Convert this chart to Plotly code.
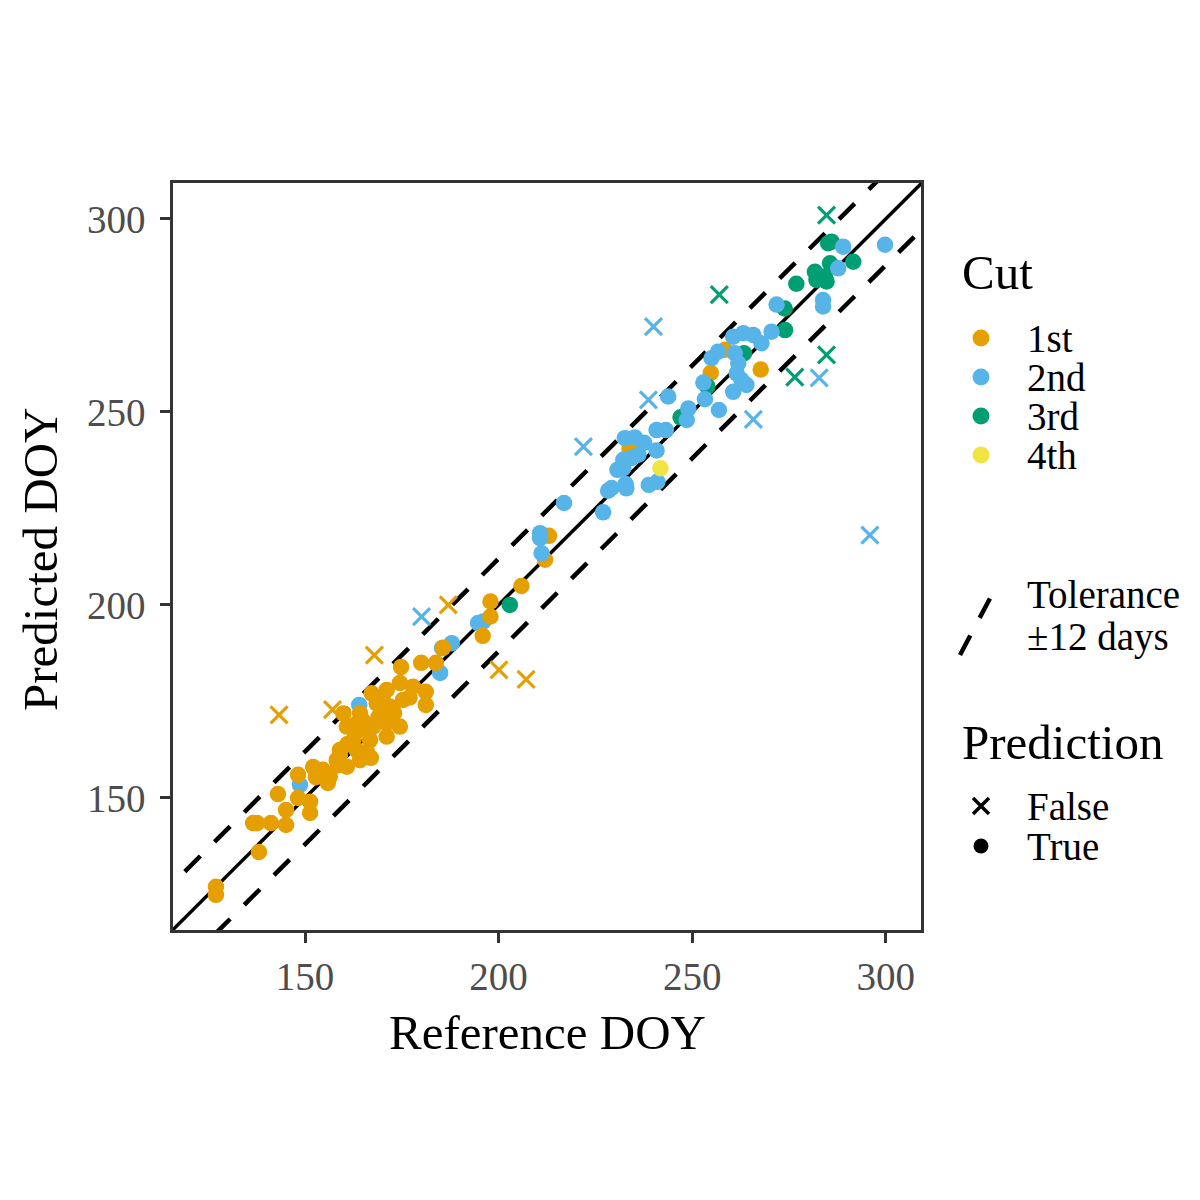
import plotly.graph_objects as go

# ---------------- data ----------------
ref_1st = [127.0,127.0,138.1,136.6,137.6,141.2,145.1,143.0,145.1,148.2,152.1,152.8,148.2,151.3,151.3,155.9,
           159.0,158.5,167.0,181.2,181.2,180.0,183.8,174.8,185.6,
           167.2,171.1,174.5,177.9,175.3,171.9,168.5,164.2,159.9,160.8,164.2,167.6,171.1,174.5,171.1,166.8,
           162.5,159.0,163.3,158.2,164.2,160.8,154.6,156.4,
           165.0,169.0,173.0,177.0,170.0,163.0,166.0,161.0,
           213.0,212.0,205.9,197.9,197.9,195.9,233.8,254.8,258.5,267.7]
pred_1st = [127.0,124.9,136.0,143.5,143.5,143.5,143.0,151.0,146.9,156.0,158.0,155.4,150.0,149.0,146.1,153.9,
            161.1,158.5,160.4,177.5,174.1,185.0,185.0,183.9,188.9,
            177.1,178.0,179.8,178.8,175.4,173.7,174.5,172.0,171.9,168.5,167.6,168.5,169.4,168.5,165.9,165.0,
            165.0,162.4,162.4,159.8,159.8,158.1,157.3,155.5,
            170.0,171.0,172.0,176.0,176.0,169.0,162.0,164.0,
            217.9,211.7,204.9,200.9,197.0,192.0,240.4,260.1,266.1,261.0]
ref_1st_miss = [143.3,157.1,167.9,187.0,200.1,207.1]
pred_1st_miss = [171.5,172.9,187.0,200.0,183.2,180.7]

ref_2nd = [148.7,164.0,184.9,185.4,187.9,194.7,196.0,211.1,210.7,210.7,216.9,
           227.0,228.3,229.2,232.8,233.0,238.8,241.0,230.7,232.2,232.2,234.3,236.1,232.6,235.2,237.6,240.8,
           240.8,243.2,243.8,248.6,249.0,253.3,256.9,252.9,255.0,256.7,260.6,263.2,265.8,261.0,261.9,261.5,
           262.7,264.0,260.6,267.9,270.5,271.8,283.8,283.8,287.7,289.0,299.8]
pred_2nd = [153.4,174.1,182.4,188.8,190.1,195.3,195.7,213.4,218.6,217.3,226.4,
            224.0,229.6,230.3,231.3,230.2,231.1,231.9,235.0,235.4,237.6,238.0,238.9,243.2,243.4,242.0,240.0,
            245.3,245.3,254.0,247.9,250.9,253.3,250.5,257.6,263.9,265.6,269.5,270.4,269.9,265.2,262.6,260.0,
            258.3,257.0,255.2,267.8,270.8,277.8,279.0,277.3,287.2,292.8,293.3]
ref_2nd_miss = [180.1,221.9,238.7,240.0,265.8,282.8,295.9]
pred_2nd_miss = [197.0,241.0,253.1,272.1,248.1,258.8,218.1]

ref_3rd = [202.9,247.0,253.9,263.4,274.0,273.9,276.9,281.7,282.1,284.3,284.7,285.6,291.6,285.1,286.0]
pred_3rd = [200.0,248.6,256.6,265.2,271.2,276.8,283.2,286.3,284.2,285.1,283.8,288.5,288.9,293.7,294.1]
ref_3rd_miss = [257.0,276.5,284.7,284.7]
pred_3rd_miss = [280.4,259.0,264.8,301.0]

ref_4th = [241.8]
pred_4th = [235.4]

cut_labels = ["1st", "2nd", "3rd", "4th"]
cut_colors = ["#E69F00", "#56B4E9", "#009E73", "#F0E442"]
tolerance = 12
axis_range = [115.9, 309.1]
axis_range_y = [115.8, 309.3]
ticks = [150, 200, 250, 300]

FONT = "Liberation Serif"
PT = 16.5

fig = go.Figure()

# reference lines (1:1 and tolerance band)
lx = [axis_range[0] - 20, axis_range[1] + 20]
for off, dash, w in [(tolerance, "22px,20px", 4.5), (-tolerance, "22px,20px", 4.5), (0, "solid", 3.5)]:
    fig.add_trace(go.Scatter(x=lx, y=[v + off for v in lx], mode="lines",
                             line=dict(color="black", width=w, dash=dash),
                             showlegend=False, hoverinfo="skip", cliponaxis=True))

# points predicted within tolerance (circles), in an order mimicking overlaps
n_low = 65
order = [
    (ref_2nd[:7], pred_2nd[:7], 1),
    (ref_1st[:n_low], pred_1st[:n_low], 0),
    (ref_1st[n_low:], pred_1st[n_low:], 0),
    (ref_3rd, pred_3rd, 2),
    (ref_2nd[7:], pred_2nd[7:], 1),
    (ref_4th, pred_4th, 3),
]
for xs, ys, ci in order:
    fig.add_trace(go.Scatter(x=xs, y=ys, mode="markers",
                             marker=dict(symbol="circle", size=PT, color=cut_colors[ci], line=dict(width=0)),
                             showlegend=False))

# points outside tolerance (crosses)
for xs, ys, ci in [(ref_1st_miss, pred_1st_miss, 0), (ref_2nd_miss, pred_2nd_miss, 1), (ref_3rd_miss, pred_3rd_miss, 2)]:
    fig.add_trace(go.Scatter(x=xs, y=ys, mode="markers",
                             marker=dict(symbol="x-thin", size=17, color=cut_colors[ci],
                                         line=dict(width=3.2, color=cut_colors[ci])),
                             showlegend=False))

# ---------------- custom legend on an overlay pixel axis ----------------
leg_x_key = 981
leg_x_txt = 1025
ann = []
def txt(x, y, s, size):
    ann.append(dict(x=x, y=y, xref="x2", yref="y2", text=s, showarrow=False, xanchor="left", yanchor="middle",
                    font=dict(family=FONT, size=size, color="black")))

txt(960, 272, "Cut", 49)
for i, (lab, col) in enumerate(zip(cut_labels, cut_colors)):
    yy = 338 + i * 39
    fig.add_trace(go.Scatter(x=[leg_x_key], y=[yy], xaxis="x2", yaxis="y2", mode="markers",
                             marker=dict(size=17, color=col), showlegend=False, hoverinfo="skip"))
    txt(leg_x_txt, yy, lab, 39)

fig.add_trace(go.Scatter(x=[960, 996], y=[655, 587], xaxis="x2", yaxis="y2", mode="lines",
                         line=dict(color="black", width=4.5, dash="22px,20px"), showlegend=False, hoverinfo="skip"))
txt(leg_x_txt, 594, "Tolerance", 39)
txt(leg_x_txt, 637, "±12 days", 39)

txt(960, 742, "Prediction", 49)
fig.add_trace(go.Scatter(x=[leg_x_key], y=[806], xaxis="x2", yaxis="y2", mode="markers",
                         marker=dict(symbol="x-thin", size=16, color="black", line=dict(width=3.5, color="black")),
                         showlegend=False, hoverinfo="skip"))
fig.add_trace(go.Scatter(x=[leg_x_key], y=[846], xaxis="x2", yaxis="y2", mode="markers",
                         marker=dict(symbol="circle", size=15, color="black"), showlegend=False, hoverinfo="skip"))
txt(leg_x_txt, 806, "False", 39)
txt(leg_x_txt, 846, "True", 39)

# axis titles
ann.append(dict(x=547 / 1200, y=1 - 1032 / 1200, xref="paper", yref="paper", text="Reference DOY", showarrow=False,
                xanchor="center", yanchor="middle", font=dict(family=FONT, size=49, color="black")))
ann.append(dict(x=40 / 1200, y=1 - 560 / 1200, xref="paper", yref="paper", text="Predicted DOY", showarrow=False,
                textangle=-90, xanchor="center", yanchor="middle", font=dict(family=FONT, size=49, color="black")))

axis_common = dict(showgrid=False, zeroline=False, showline=True, linecolor="#333333", linewidth=2.5, mirror=True,
                   ticks="outside", ticklen=10, tickwidth=3, tickcolor="#333333",
                   tickfont=dict(family=FONT, size=39, color="#4D4D4D"), tickvals=ticks, automargin=False)

fig.update_layout(
    width=1200, height=1200, template="none",
    paper_bgcolor="white", plot_bgcolor="white",
    margin=dict(l=0, r=0, t=0, b=0, pad=0),
    xaxis=dict(domain=[173 / 1200, 921 / 1200], range=axis_range, anchor="y", ticklabelstandoff=0, **axis_common),
    yaxis=dict(domain=[1 - 930 / 1200, 1 - 183 / 1200], range=axis_range_y, anchor="x", ticklabelstandoff=7, **axis_common),
    xaxis2=dict(domain=[936 / 1200, 1.0], range=[936, 1200], anchor="y2", visible=False, fixedrange=True),
    yaxis2=dict(domain=[0, 1], range=[1200, 0], anchor="x2", visible=False, fixedrange=True),
    annotations=ann,
    showlegend=False,
)

fig.write_html("out.html")
